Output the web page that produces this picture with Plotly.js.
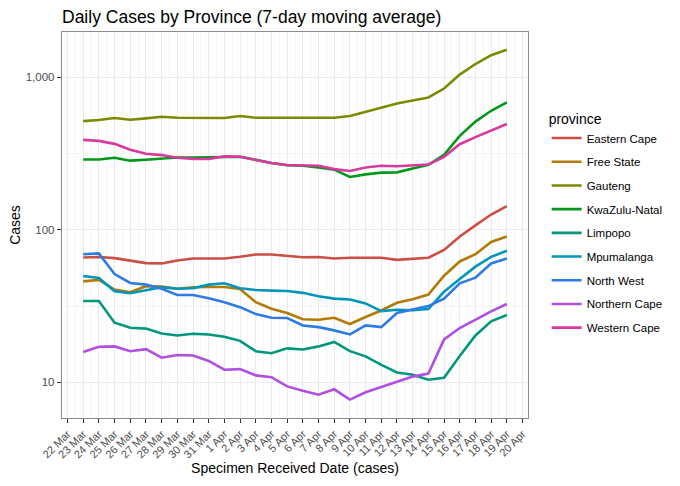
<!DOCTYPE html>
<html>
<head>
<meta charset="utf-8">
<script src="https://cdn.plot.ly/plotly-3.0.1.min.js"></script>
<style>html,body{margin:0;padding:0;background:#fff;}#chart{width:680px;height:486px;}</style>
</head>
<body>
<div id="chart"></div>
<script>
const dates = ["2022-03-23","2022-03-24","2022-03-25","2022-03-26","2022-03-27","2022-03-28","2022-03-29","2022-03-30","2022-03-31","2022-04-01","2022-04-02","2022-04-03","2022-04-04","2022-04-05","2022-04-06","2022-04-07","2022-04-08","2022-04-09","2022-04-10","2022-04-11","2022-04-12","2022-04-13","2022-04-14","2022-04-15","2022-04-16","2022-04-17","2022-04-18","2022-04-19"];

const easternCape = [65.9,66.3,65.2,63.0,60.5,60.2,63.0,64.9,64.9,64.9,66.5,68.9,68.9,67.4,66.1,66.3,64.9,65.6,65.6,65.6,63.5,64.3,65.6,73.8,90.3,107,126,143];
const freeState = [45.9,46.9,40.6,39.0,42.7,42.4,41.1,42.0,42.2,42.2,40.9,33.5,30.4,28.5,25.9,25.7,26.5,24.1,26.8,29.6,33.2,35.1,37.6,50.0,62.0,69.2,83.2,90.3];
const gauteng = [516,525,541,527,538,551,543,543,543,541,557,543,543,543,541,543,543,557,594,631,674,705,738,844,1041,1222,1397,1514];
const kwaZuluNatal = [289,289,297,284,288,294,298,298,299,301,301,288,274,265,263,256,248,222,231,237,238,252,267,310,413,512,603,684];
const limpopo = [34.1,34.1,24.6,22.8,22.5,20.9,20.3,20.8,20.6,19.9,18.7,16.0,15.5,16.7,16.4,17.2,18.4,16.0,14.8,13.0,11.6,11.2,10.4,10.7,14.9,20.3,25.1,27.6];
const mpumalanga = [49.8,48.3,39.5,38.4,40.2,42.0,41.1,41.4,43.7,44.6,41.4,40.3,39.9,39.7,38.6,36.7,35.4,34.9,32.9,29.3,29.9,29.7,30.2,39.3,47.6,57.3,66.5,72.8];
const northWest = [69.2,70.0,51.3,44.8,43.7,41.1,37.4,37.4,35.6,33.5,31.1,28.0,26.5,26.4,23.6,23.0,21.9,20.6,23.6,23.0,28.5,29.9,31.6,35.3,44.6,48.5,60.2,64.9];
const northernCape = [15.8,17.1,17.2,16.0,16.5,14.5,15.1,15.0,13.8,12.1,12.2,11.1,10.8,9.4,8.8,8.3,9.0,7.7,8.6,9.3,10.0,10.9,11.4,19.1,22.7,25.9,29.2,32.6];
const westernCape = [389,383,366,335,315,309,297,292,291,303,301,288,274,266,264,263,250,243,256,263,261,264,268,301,364,405,447,494];

const provinces = ["Eastern Cape","Free State","Gauteng","KwaZulu-Natal","Limpopo","Mpumalanga","North West","Northern Cape","Western Cape"];
const seriesValues = [easternCape,freeState,gauteng,kwaZuluNatal,limpopo,mpumalanga,northWest,northernCape,westernCape];
const colors = ["#CB4F45","#B27A06","#7B8A00","#00971B","#00977B","#0096B9","#2E7BE3","#B04FE0","#D9399E"];

const tickDates = ["2022-03-22","2022-03-23","2022-03-24","2022-03-25","2022-03-26","2022-03-27","2022-03-28","2022-03-29","2022-03-30","2022-03-31","2022-04-01","2022-04-02","2022-04-03","2022-04-04","2022-04-05","2022-04-06","2022-04-07","2022-04-08","2022-04-09","2022-04-10","2022-04-11","2022-04-12","2022-04-13","2022-04-14","2022-04-15","2022-04-16","2022-04-17","2022-04-18","2022-04-19","2022-04-20"];
const tickLabels = ["22 Mar","23 Mar","24 Mar","25 Mar","26 Mar","27 Mar","28 Mar","29 Mar","30 Mar","31 Mar","1 Apr","2 Apr","3 Apr","4 Apr","5 Apr","6 Apr","7 Apr","8 Apr","9 Apr","10 Apr","11 Apr","12 Apr","13 Apr","14 Apr","15 Apr","16 Apr","17 Apr","18 Apr","19 Apr","20 Apr"];
const yTicks = [10,100,1000];
const yTickLabels = ["10","100","1,000"];
const yMinor = [3.1623,31.623,316.23,3162.3];

const traces = provinces.map((p,i)=>({
  type:"scatter", mode:"lines", name:p, legendgroup:p,
  x:dates, y:seriesValues[i],
  line:{color:colors[i], width:2.6}
}));

const FONT = "Liberation Sans, Arial, sans-serif";
const layout = {
  width:680, height:486,
  margin:{l:62, r:146, t:32, b:68},
  paper_bgcolor:"#fff", plot_bgcolor:"#fff",
  font:{family:FONT, color:"#000"},
  title:{text:"Daily Cases by Province (7-day moving average)", x:62/680, xref:"container", xanchor:"left", y:1-17/486, yref:"container", yanchor:"middle", font:{size:17.5, color:"#000", family:FONT}},
  xaxis:{
    type:"date", range:["2022-03-21 15:36","2022-04-20 08:24"],
    tickmode:"array", tickvals:tickDates, ticktext:tickLabels, tickangle:-45,
    tickfont:{size:11, color:"#4D4D4D"},
    ticks:"outside", ticklen:4, tickcolor:"#333", tickwidth:1,
    showgrid:true, gridcolor:"#EBEBEB", gridwidth:1,
    minor:{dtick:86400000, tick0:"2022-03-22 12:00", showgrid:true, gridcolor:"#F3F3F3", gridwidth:0.8},
    showline:true, mirror:true, linecolor:"#8C8C8C", linewidth:1.2,
    zeroline:false,
    title:{text:"Specimen Received Date (cases)", font:{size:14, color:"#000"}, standoff:3}
  },
  yaxis:{
    type:"log", range:[0.766,3.297],
    tickmode:"array", tickvals:yTicks, ticktext:yTickLabels,
    tickfont:{size:11.5, color:"#4D4D4D"},
    ticks:"outside", ticklen:4, tickcolor:"#333", tickwidth:1,
    showgrid:true, gridcolor:"#EBEBEB", gridwidth:1,
    minor:{tickmode:"array", tickvals:yMinor, showgrid:true, gridcolor:"#F3F3F3", gridwidth:0.8, ticks:""},
    showline:true, mirror:true, linecolor:"#8C8C8C", linewidth:1.2,
    zeroline:false,
    title:{text:"Cases", font:{size:14, color:"#000"}, standoff:1}
  },
  legend:{
    x:1.04, xanchor:"left", y:0.81, yanchor:"top",
    title:{text:"province", font:{size:14, color:"#000"}},
    font:{size:11.5, color:"#000"},
    tracegroupgap:4.7, itemwidth:30,
    bgcolor:"rgba(0,0,0,0)"
  },
  showlegend:true
};

Plotly.newPlot("chart", traces, layout, {displayModeBar:false, staticPlot:true});
</script>
</body>
</html>
